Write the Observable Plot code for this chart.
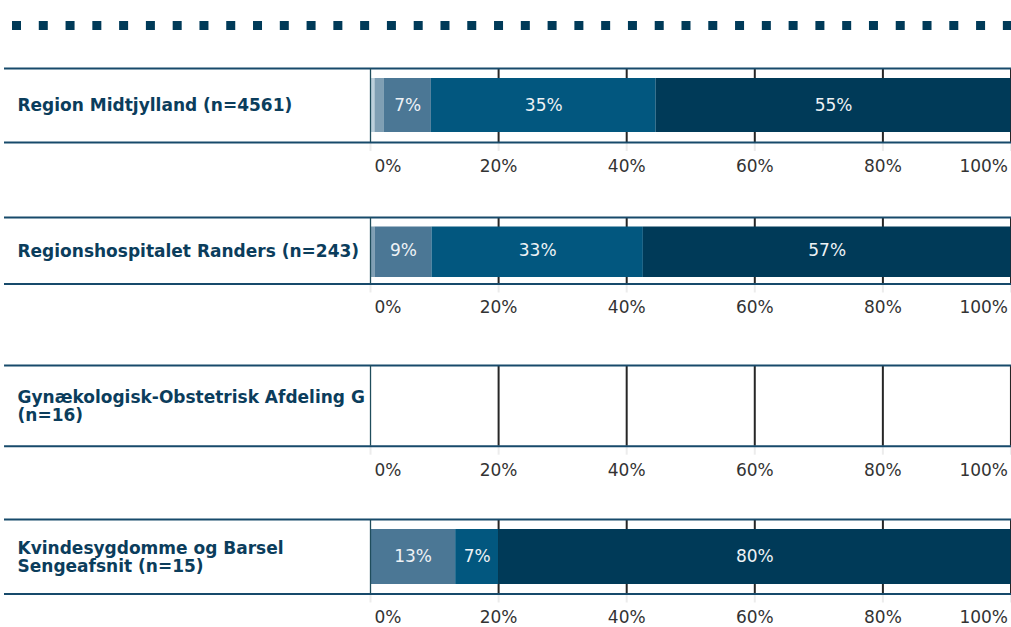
<!DOCTYPE html>
<html>
<head>
<meta charset="utf-8">
<script src="https://cdn.jsdelivr.net/npm/d3@7"></script>
<script src="https://cdn.jsdelivr.net/npm/@observablehq/plot@0.6"></script>
<style>
  html, body { margin: 0; padding: 0; background: #fff; }
  #root { position: relative; width: 1011px; height: 627px; overflow: hidden; }
  #root svg { position: absolute; left: 0; }
</style>
</head>
<body>
<div id="root">
  <svg width="1011" height="40" style="top:0">
    <line x1="12" y1="25.5" x2="1011" y2="25.5" stroke="#003a58" stroke-width="9" stroke-dasharray="9 17.78"></line>
  </svg>
</div>
<script>
// ---- data ----
const categories = ["I meget ringe grad", "I ringe grad", "I nogen grad", "I høj grad", "I meget høj grad"];
const units = [
  "Region Midtjylland (n=4561)",
  "Regionshospitalet Randers (n=243)",
  "Gynækologisk-Obstetrisk Afdeling G\n(n=16)",
  "Kvindesygdomme og Barsel\nSengeafsnit (n=15)"
];
const valuesMidtjylland = [0.7, 1.4, 7.4, 35.1, 55.4];
const valuesRanders = [0, 0.7, 8.9, 33.0, 57.4];
const valuesAfdelingG = [null, null, null, null, null];
const valuesSengeafsnit = [0, 0, 13.3, 6.7, 80.0];
const tickValues = [0, 20, 40, 60, 80, 100];

// ---- styles / layout ----
const colors = ["#bcd0dc", "#7f9fb4", "#4b7795", "#02577f", "#003a58"];
const font = "Verdana, 'DejaVu Sans', sans-serif";
const layout = [
  {top: 68, bottom: 142, insetTop: 10, insetBottom: 10},
  {top: 216.5, bottom: 283, insetTop: 9.5, insetBottom: 6.5},
  {top: 364.8, bottom: 445.5, insetTop: 10, insetBottom: 10},
  {top: 519, bottom: 593.5, insetTop: 10, insetBottom: 9.5}
];
const series = [valuesMidtjylland, valuesRanders, valuesAfdelingG, valuesSengeafsnit];

const root = document.getElementById("root");
const mT = 2, mB = 40;

units.forEach((unit, k) => {
  const L = layout[k];
  const boxH = L.bottom - L.top;
  const rows = categories.map((c, i) => ({category: c, value: series[k][i]}))
    .filter(d => d.value != null && d.value > 0);
  const chart = Plot.plot({
    width: 1011,
    height: boxH + mT + mB,
    marginLeft: 4,
    marginRight: 0,
    marginTop: mT,
    marginBottom: mB,
    x: {domain: [0, 100], range: [370, 1010.5], axis: null},
    y: {domain: [0, 1], axis: null},
    color: {domain: categories, range: colors},
    style: {fontFamily: font, background: "transparent", overflow: "visible"},
    marks: [
      Plot.ruleX(tickValues, {y1: 0, y2: -9 / boxH, stroke: "#ececec", strokeWidth: 2}),
      Plot.ruleX(tickValues.filter(t => t > 0), {y1: 0, y2: 1, stroke: "#262626", strokeWidth: 2}),
      Plot.rectX(rows, {x: "value", y1: 0, y2: 1, fill: "category", insetTop: L.insetTop, insetBottom: L.insetBottom}),
      Plot.text(rows, Plot.stackX({
        x: "value", y: 0.5,
        text: d => d.value >= 5 ? Math.round(d.value) + "%" : "",
        fill: "#eef2f5", fontSize: 17
      })),
      Plot.ruleY([0, 1], {stroke: "#174a6b", strokeWidth: 2}),
      Plot.ruleX([0], {y1: 0, y2: 1, stroke: "#1f4d5c", strokeWidth: 1.3}),
      Plot.text([unit], {
        frameAnchor: "left", dx: 13, y: 0.5, text: d => d,
        textAnchor: "start", fontWeight: "bold", fontSize: 17, fill: "#0b3d5c", lineHeight: 1.06
      }),
      Plot.text(tickValues.filter(t => t === 0), {x: d => d, y: 0, dy: 24, dx: 4, text: d => d + "%", textAnchor: "start", fontSize: 17, fill: "#333"}),
      Plot.text(tickValues.filter(t => t > 0 && t < 100), {x: d => d, y: 0, dy: 24, text: d => d + "%", textAnchor: "middle", fontSize: 17, fill: "#333"}),
      Plot.text(tickValues.filter(t => t === 100), {x: d => d, y: 0, dy: 24, dx: -3, text: d => d + "%", textAnchor: "end", fontSize: 17, fill: "#333"})
    ]
  });
  chart.style.top = (L.top - mT) + "px";
  root.appendChild(chart);
});
</script>
</body>
</html>
